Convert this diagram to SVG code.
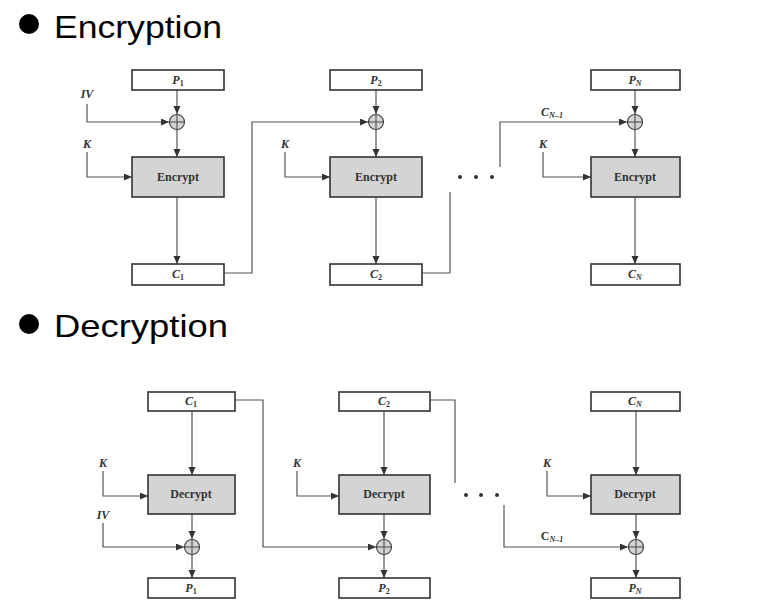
<svg xmlns="http://www.w3.org/2000/svg" width="759" height="612" viewBox="0 0 759 612">
<defs>
<marker id="ah" markerWidth="9" markerHeight="8" refX="8" refY="3.5" orient="auto" markerUnits="userSpaceOnUse">
<path d="M0,0 L8,3.5 L0,7 z" fill="#333"/>
</marker>
<style>
.box{fill:#fff;stroke:#333;stroke-width:1.6}
.op{fill:#d4d4d4;stroke:#333;stroke-width:1.6}
.x{fill:#d4d4d4;stroke:#444;stroke-width:1.2}
.xl{stroke:#444;stroke-width:1}
.ln{fill:none;stroke:#555;stroke-width:1.2}
.ar{marker-end:url(#ah)}
.lb{font-family:"Liberation Serif",serif;font-weight:bold;font-style:italic;font-size:12px;fill:#333;text-anchor:middle}
.op-t{font-family:"Liberation Serif",serif;font-weight:bold;font-size:12px;fill:#333;text-anchor:middle}
.sub{font-size:8px;font-style:normal}
.subi{font-size:8px}
.hd{font-family:"Liberation Sans",Arial,sans-serif;font-size:32px;fill:#000}
.dot{fill:#333}
</style>
</defs>
<rect width="759" height="612" fill="#fff"/>

<g id="heading-enc">
<circle cx="29" cy="24" r="10" fill="#000"/>
<text class="hd" x="54" y="38" textLength="168" lengthAdjust="spacingAndGlyphs">Encryption</text>
</g>
<g id="heading-dec">
<circle cx="29" cy="324" r="10" fill="#000"/>
<text class="hd" x="54" y="337" textLength="174" lengthAdjust="spacingAndGlyphs">Decryption</text>
</g>

<g id="connectors">
<path class="ln ar" d="M177,90 V114"/>
<path class="ln ar" d="M87,104 V122 H169"/>
<path class="ln ar" d="M177,130 V157"/>
<path class="ln ar" d="M87,152 V177 H132"/>
<path class="ln ar" d="M177,197 V264"/>
<path class="ln ar" d="M224,273 H252 V122 H368"/>
<path class="ln ar" d="M376,90 V114"/>
<path class="ln ar" d="M376,130 V157"/>
<path class="ln ar" d="M285,152 V177 H330"/>
<path class="ln ar" d="M376,197 V264"/>
<path class="ln" d="M422,273 H450 V192"/>
<path class="ln ar" d="M635,90 V114"/>
<path class="ln ar" d="M500,167 V122 H627"/>
<path class="ln ar" d="M635,130 V157"/>
<path class="ln ar" d="M543,152 V177 H591"/>
<path class="ln ar" d="M635,197 V264"/>
<path class="ln ar" d="M192,411 V475"/>
<path class="ln ar" d="M103,471 V496 H148"/>
<path class="ln ar" d="M192,514 V539"/>
<path class="ln ar" d="M103,523 V547 H184"/>
<path class="ln ar" d="M192,555 V578"/>
<path class="ln ar" d="M235,400 H263 V547 H376"/>
<path class="ln ar" d="M384,411 V475"/>
<path class="ln ar" d="M297,471 V496 H339"/>
<path class="ln ar" d="M384,514 V539"/>
<path class="ln ar" d="M384,555 V578"/>
<path class="ln" d="M430,400 H455 V483"/>
<path class="ln ar" d="M636,411 V475"/>
<path class="ln ar" d="M547,471 V496 H591"/>
<path class="ln ar" d="M636,514 V539"/>
<path class="ln ar" d="M504,505 V547 H628"/>
<path class="ln ar" d="M636,555 V578"/>
</g>

<g id="enc-p1"><rect class="box" x="132" y="70" width="92" height="20"/><text class="lb" x="178" y="84">P<tspan class="sub" dy="2">1</tspan></text></g>
<g id="enc-xor1"><circle class="x" cx="177" cy="122" r="7.5"/><path class="xl" d="M169.5,122 H184.5 M177,114.5 V129.5"/></g>
<g id="enc-e1"><rect class="op" x="132" y="157" width="92" height="40"/><text class="op-t" x="178" y="181">Encrypt</text></g>
<g id="enc-c1"><rect class="box" x="132" y="264" width="92" height="21"/><text class="lb" x="178" y="278">C<tspan class="sub" dy="2">1</tspan></text></g>
<g id="enc-iv"><text class="lb" x="87" y="98">IV</text></g>
<g id="enc-k1"><text class="lb" x="87" y="148">K</text></g>

<g id="enc-p2"><rect class="box" x="330" y="70" width="92" height="20"/><text class="lb" x="376" y="84">P<tspan class="sub" dy="2">2</tspan></text></g>
<g id="enc-xor2"><circle class="x" cx="376" cy="122" r="7.5"/><path class="xl" d="M368.5,122 H383.5 M376,114.5 V129.5"/></g>
<g id="enc-e2"><rect class="op" x="330" y="157" width="92" height="40"/><text class="op-t" x="376" y="181">Encrypt</text></g>
<g id="enc-c2"><rect class="box" x="330" y="264" width="92" height="21"/><text class="lb" x="376" y="278">C<tspan class="sub" dy="2">2</tspan></text></g>
<g id="enc-k2"><text class="lb" x="285" y="148">K</text></g>

<g id="enc-dots"><circle class="dot" cx="460" cy="177" r="2"/><circle class="dot" cx="476" cy="177" r="2"/><circle class="dot" cx="492" cy="177" r="2"/></g>

<g id="enc-pn"><rect class="box" x="591" y="70" width="89" height="20"/><text class="lb" x="635" y="84">P<tspan class="subi" dy="2">N</tspan></text></g>
<g id="enc-xorn"><circle class="x" cx="635" cy="122" r="7.5"/><path class="xl" d="M627.5,122 H642.5 M635,114.5 V129.5"/></g>
<g id="enc-en"><rect class="op" x="591" y="157" width="89" height="40"/><text class="op-t" x="635" y="181">Encrypt</text></g>
<g id="enc-cn"><rect class="box" x="591" y="264" width="89" height="21"/><text class="lb" x="635" y="278">C<tspan class="subi" dy="2">N</tspan></text></g>
<g id="enc-cn1"><text class="lb" x="552" y="116">C<tspan class="subi" dy="2">N–1</tspan></text></g>
<g id="enc-kn"><text class="lb" x="543" y="148">K</text></g>

<g id="dec-c1"><rect class="box" x="148" y="392" width="87" height="19"/><text class="lb" x="191" y="405">C<tspan class="sub" dy="2">1</tspan></text></g>
<g id="dec-d1"><rect class="op" x="148" y="475" width="87" height="39"/><text class="op-t" x="191" y="498">Decrypt</text></g>
<g id="dec-xor1"><circle class="x" cx="192" cy="547" r="7.5"/><path class="xl" d="M184.5,547 H199.5 M192,539.5 V554.5"/></g>
<g id="dec-p1"><rect class="box" x="148" y="578" width="87" height="20"/><text class="lb" x="191" y="592">P<tspan class="sub" dy="2">1</tspan></text></g>
<g id="dec-k1"><text class="lb" x="103" y="467">K</text></g>
<g id="dec-iv"><text class="lb" x="103" y="519">IV</text></g>

<g id="dec-c2"><rect class="box" x="339" y="392" width="91" height="19"/><text class="lb" x="384" y="405">C<tspan class="sub" dy="2">2</tspan></text></g>
<g id="dec-d2"><rect class="op" x="339" y="475" width="91" height="39"/><text class="op-t" x="384" y="498">Decrypt</text></g>
<g id="dec-xor2"><circle class="x" cx="384" cy="547" r="7.5"/><path class="xl" d="M376.5,547 H391.5 M384,539.5 V554.5"/></g>
<g id="dec-p2"><rect class="box" x="339" y="578" width="91" height="20"/><text class="lb" x="384" y="592">P<tspan class="sub" dy="2">2</tspan></text></g>
<g id="dec-k2"><text class="lb" x="297" y="467">K</text></g>

<g id="dec-dots"><circle class="dot" cx="466" cy="495" r="2"/><circle class="dot" cx="481" cy="495" r="2"/><circle class="dot" cx="497" cy="495" r="2"/></g>

<g id="dec-cn"><rect class="box" x="591" y="392" width="89" height="19"/><text class="lb" x="635" y="405">C<tspan class="subi" dy="2">N</tspan></text></g>
<g id="dec-dn"><rect class="op" x="591" y="475" width="89" height="39"/><text class="op-t" x="635" y="498">Decrypt</text></g>
<g id="dec-xorn"><circle class="x" cx="636" cy="547" r="7.5"/><path class="xl" d="M628.5,547 H643.5 M636,539.5 V554.5"/></g>
<g id="dec-pn"><rect class="box" x="591" y="578" width="89" height="20"/><text class="lb" x="635" y="592">P<tspan class="subi" dy="2">N</tspan></text></g>
<g id="dec-kn"><text class="lb" x="547" y="467">K</text></g>
<g id="dec-cn1"><text class="lb" x="552" y="540"><tspan font-style="normal">C</tspan><tspan class="subi" dy="2">N–1</tspan></text></g>
</svg>
